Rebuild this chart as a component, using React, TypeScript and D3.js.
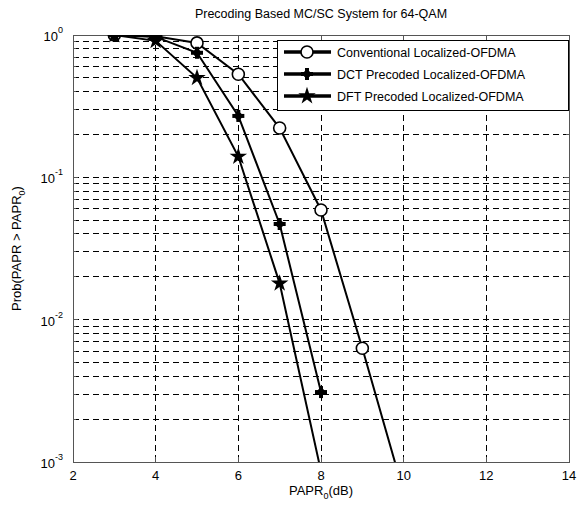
import React from 'react';
import * as d3 from 'd3';

const xTicks = [2, 4, 6, 8, 10, 12, 14];
const yDecades = [-3, -2, -1, 0];

const convX = [3, 4, 5, 6, 7, 8, 9, 10];
const convY = [1, 0.98, 0.88, 0.53, 0.222, 0.059, 0.0063, 0.00061];

const dctX = [3, 4, 5, 6, 7, 8];
const dctY = [1, 0.97, 0.75, 0.27, 0.047, 0.0031];

const dftX = [3, 4, 5, 6, 7, 8];
const dftY = [1, 0.91, 0.5, 0.14, 0.018, 0.00086];

const seriesNames = [
  'Conventional Localized-OFDMA',
  'DCT Precoded Localized-OFDMA',
  'DFT Precoded Localized-OFDMA',
];

const W = 577;
const H = 505;
const left = 73, right = 569, top = 35, bottom = 462;

function Marker({ kind, x, y }: { kind: string; x: number; y: number }) {
  if (kind === 'circle') {
    return <circle cx={x} cy={y} r={6} fill="white" stroke="black" strokeWidth={1.6} />;
  }
  if (kind === 'plus') {
    return (
      <g transform={`translate(${x},${y})`}>
        <rect x={-2} y={-6} width={4} height={12} fill="black" />
        <rect x={-6} y={-2} width={12} height={4} fill="black" />
        <circle r={3.6} fill="black" />
      </g>
    );
  }
  const star = d3.symbol().type(d3.symbolStar).size(95)();
  return <path d={star || ''} transform={`translate(${x},${y})`} fill="black" />;
}

export default function App() {
  const x = d3.scaleLinear().domain([2, 14]).range([left, right]);
  const y = d3.scaleLog().domain([1e-3, 1]).range([bottom, top]);

  const minor: number[] = [];
  yDecades.slice(0, 3).forEach((d) => {
    for (let k = 2; k <= 9; k++) minor.push(k * Math.pow(10, d));
  });

  const line = d3.line<[number, number]>().x((d) => x(d[0])).y((d) => y(d[1]));
  const series = [
    { xs: convX, ys: convY, kind: 'circle' },
    { xs: dctX, ys: dctY, kind: 'plus' },
    { xs: dftX, ys: dftY, kind: 'star' },
  ];

  const font = 'Liberation Sans, Arial, sans-serif';

  return (
    <svg width={W} height={H} style={{ position: 'absolute', left: 0, top: 0 }} fontFamily={font}>
      <defs>
        <clipPath id="plot">
          <rect x={left} y={top} width={right - left} height={bottom - top} />
        </clipPath>
      </defs>
      <rect x={0} y={0} width={W} height={H} fill="white" />
      <rect x={left} y={top} width={right - left} height={bottom - top} fill="white" />

      {/* grid */}
      <g stroke="black" strokeWidth={1} strokeDasharray="6,4" fill="none" shapeRendering="crispEdges">
        {xTicks.slice(1, -1).map((t) => (
          <line key={'gx' + t} x1={x(t)} x2={x(t)} y1={top} y2={bottom} />
        ))}
        {yDecades.slice(1, -1).map((d) => (
          <line key={'gy' + d} x1={left} x2={right} y1={y(Math.pow(10, d))} y2={y(Math.pow(10, d))} />
        ))}
        {minor.map((m, i) => (
          <line key={'gm' + i} x1={left} x2={right} y1={y(m)} y2={y(m)} />
        ))}
      </g>

      {/* axes box and ticks */}
      <g stroke="#555" strokeWidth={1} fill="none" shapeRendering="crispEdges">
        <rect x={left} y={top} width={right - left} height={bottom - top} />
        {xTicks.map((t) => (
          <g key={'tx' + t}>
            <line x1={x(t)} x2={x(t)} y1={bottom} y2={bottom - 5} />
            <line x1={x(t)} x2={x(t)} y1={top} y2={top + 5} />
          </g>
        ))}
        {yDecades.map((d) => (
          <g key={'ty' + d}>
            <line x1={left} x2={left + 5} y1={y(Math.pow(10, d))} y2={y(Math.pow(10, d))} />
            <line x1={right} x2={right - 5} y1={y(Math.pow(10, d))} y2={y(Math.pow(10, d))} />
          </g>
        ))}
        {minor.map((m, i) => (
          <g key={'tm' + i}>
            <line x1={left} x2={left + 3} y1={y(m)} y2={y(m)} />
            <line x1={right} x2={right - 3} y1={y(m)} y2={y(m)} />
          </g>
        ))}
      </g>

      {/* data */}
      <g clipPath="url(#plot)">
        {series.map((s, i) => {
          const pts: [number, number][] = s.xs.map((v, j) => [v, s.ys[j]]);
          return (
            <g key={'s' + i}>
              <path d={line(pts) || ''} fill="none" stroke="black" strokeWidth={2} />
              {pts
                .filter((p) => p[1] >= 1e-3)
                .map((p, j) => (
                  <Marker key={j} kind={s.kind} x={x(p[0])} y={y(p[1])} />
                ))}
            </g>
          );
        })}
      </g>

      {/* tick labels */}
      <g fontSize={13} fill="black">
        {xTicks.map((t) => (
          <text key={'lx' + t} x={x(t)} y={bottom + 18} textAnchor="middle">
            {t}
          </text>
        ))}
        {yDecades.map((d) => (
          <text key={'ly' + d} x={left - 10} y={y(Math.pow(10, d)) + 6} textAnchor="end">
            10
            <tspan fontSize={9} dy={-8}>
              {d}
            </tspan>
          </text>
        ))}
      </g>

      {/* title and axis labels */}
      <text x={(left + right) / 2} y={18} textAnchor="middle" fontSize={12.5}>
        Precoding Based MC/SC System for 64-QAM
      </text>
      <text x={(left + right) / 2} y={495} textAnchor="middle" fontSize={13}>
        PAPR
        <tspan fontSize={9} dy={4}>0</tspan>
        <tspan dy={-4}>(dB)</tspan>
      </text>
      <text transform={`translate(21,${(top + bottom) / 2}) rotate(-90)`} textAnchor="middle" fontSize={13}>
        Prob(PAPR &gt; PAPR
        <tspan fontSize={9} dy={4}>0</tspan>
        <tspan dy={-4}>)</tspan>
      </text>

      {/* legend */}
      <g>
        <rect x={277} y={40} width={291} height={70} fill="white" stroke="black" strokeWidth={1} shapeRendering="crispEdges" />
        {series.map((s, i) => {
          const ly = 52 + i * 22;
          return (
            <g key={'lg' + i}>
              <line x1={284} x2={331} y1={ly} y2={ly} stroke="black" strokeWidth={3.5} />
              <Marker kind={s.kind} x={307} y={ly} />
              <text x={337} y={ly + 5} fontSize={12.5}>
                {seriesNames[i]}
              </text>
            </g>
          );
        })}
      </g>
    </svg>
  );
}
